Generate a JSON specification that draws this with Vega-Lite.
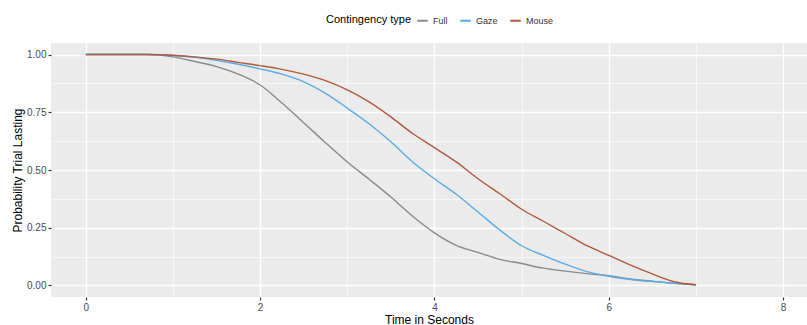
{
  "$schema": "https://vega.github.io/schema/vega-lite/v6.json",
  "width": 756,
  "height": 254,
  "autosize": {"type": "none"},
  "padding": {"left": 51, "top": 43, "right": 0, "bottom": 28},
  "background": "white",
  "config": {
    "font": "Liberation Sans",
    "view": {"fill": "#ebebeb", "stroke": null}
  },
  "data": {
    "values": [
      {"t": 0, "p": 1, "type": "Full"},
      {"t": 0.7, "p": 1, "type": "Full"},
      {"t": 1.0, "p": 0.99, "type": "Full"},
      {"t": 1.25, "p": 0.97, "type": "Full"},
      {"t": 1.5, "p": 0.948, "type": "Full"},
      {"t": 1.75, "p": 0.915, "type": "Full"},
      {"t": 2.0, "p": 0.868, "type": "Full"},
      {"t": 2.25, "p": 0.79, "type": "Full"},
      {"t": 2.5, "p": 0.705, "type": "Full"},
      {"t": 2.75, "p": 0.618, "type": "Full"},
      {"t": 3.0, "p": 0.535, "type": "Full"},
      {"t": 3.25, "p": 0.46, "type": "Full"},
      {"t": 3.5, "p": 0.383, "type": "Full"},
      {"t": 3.75, "p": 0.3, "type": "Full"},
      {"t": 4.0, "p": 0.228, "type": "Full"},
      {"t": 4.25, "p": 0.174, "type": "Full"},
      {"t": 4.5, "p": 0.143, "type": "Full"},
      {"t": 4.75, "p": 0.113, "type": "Full"},
      {"t": 5.0, "p": 0.095, "type": "Full"},
      {"t": 5.25, "p": 0.075, "type": "Full"},
      {"t": 5.5, "p": 0.062, "type": "Full"},
      {"t": 5.75, "p": 0.051, "type": "Full"},
      {"t": 6.0, "p": 0.042, "type": "Full"},
      {"t": 6.25, "p": 0.028, "type": "Full"},
      {"t": 6.5, "p": 0.018, "type": "Full"},
      {"t": 6.75, "p": 0.009, "type": "Full"},
      {"t": 7.0, "p": 0.003, "type": "Full"},
      {"t": 0, "p": 1, "type": "Gaze"},
      {"t": 0.7, "p": 1, "type": "Gaze"},
      {"t": 1.0, "p": 0.996, "type": "Gaze"},
      {"t": 1.25, "p": 0.988, "type": "Gaze"},
      {"t": 1.5, "p": 0.975, "type": "Gaze"},
      {"t": 1.75, "p": 0.958, "type": "Gaze"},
      {"t": 2.0, "p": 0.938, "type": "Gaze"},
      {"t": 2.25, "p": 0.915, "type": "Gaze"},
      {"t": 2.5, "p": 0.882, "type": "Gaze"},
      {"t": 2.75, "p": 0.832, "type": "Gaze"},
      {"t": 3.0, "p": 0.768, "type": "Gaze"},
      {"t": 3.25, "p": 0.7, "type": "Gaze"},
      {"t": 3.5, "p": 0.622, "type": "Gaze"},
      {"t": 3.75, "p": 0.535, "type": "Gaze"},
      {"t": 4.0, "p": 0.462, "type": "Gaze"},
      {"t": 4.25, "p": 0.395, "type": "Gaze"},
      {"t": 4.5, "p": 0.318, "type": "Gaze"},
      {"t": 4.75, "p": 0.24, "type": "Gaze"},
      {"t": 5.0, "p": 0.172, "type": "Gaze"},
      {"t": 5.25, "p": 0.13, "type": "Gaze"},
      {"t": 5.5, "p": 0.092, "type": "Gaze"},
      {"t": 5.75, "p": 0.06, "type": "Gaze"},
      {"t": 6.0, "p": 0.04, "type": "Gaze"},
      {"t": 6.25, "p": 0.026, "type": "Gaze"},
      {"t": 6.5, "p": 0.017, "type": "Gaze"},
      {"t": 6.75, "p": 0.009, "type": "Gaze"},
      {"t": 7.0, "p": 0.003, "type": "Gaze"},
      {"t": 0, "p": 1, "type": "Mouse"},
      {"t": 0.7, "p": 1, "type": "Mouse"},
      {"t": 1.0, "p": 0.997, "type": "Mouse"},
      {"t": 1.25, "p": 0.99, "type": "Mouse"},
      {"t": 1.5, "p": 0.98, "type": "Mouse"},
      {"t": 1.75, "p": 0.966, "type": "Mouse"},
      {"t": 2.0, "p": 0.952, "type": "Mouse"},
      {"t": 2.25, "p": 0.936, "type": "Mouse"},
      {"t": 2.5, "p": 0.915, "type": "Mouse"},
      {"t": 2.75, "p": 0.887, "type": "Mouse"},
      {"t": 3.0, "p": 0.847, "type": "Mouse"},
      {"t": 3.25, "p": 0.795, "type": "Mouse"},
      {"t": 3.5, "p": 0.73, "type": "Mouse"},
      {"t": 3.75, "p": 0.658, "type": "Mouse"},
      {"t": 4.0, "p": 0.597, "type": "Mouse"},
      {"t": 4.25, "p": 0.535, "type": "Mouse"},
      {"t": 4.5, "p": 0.462, "type": "Mouse"},
      {"t": 4.75, "p": 0.397, "type": "Mouse"},
      {"t": 5.0, "p": 0.33, "type": "Mouse"},
      {"t": 5.25, "p": 0.278, "type": "Mouse"},
      {"t": 5.5, "p": 0.225, "type": "Mouse"},
      {"t": 5.75, "p": 0.172, "type": "Mouse"},
      {"t": 6.0, "p": 0.13, "type": "Mouse"},
      {"t": 6.25, "p": 0.088, "type": "Mouse"},
      {"t": 6.5, "p": 0.05, "type": "Mouse"},
      {"t": 6.75, "p": 0.016, "type": "Mouse"},
      {"t": 7.0, "p": 0.003, "type": "Mouse"}
    ]
  },
  "mark": {"type": "line", "strokeWidth": 1.4, "clip": true, "interpolate": "monotone"},
  "encoding": {
    "x": {
      "field": "t",
      "type": "quantitative",
      "scale": {"domain": [-0.4, 8.275], "nice": false, "zero": false},
      "axis": {
        "title": "Time in Seconds",
        "values": [0, 1, 2, 3, 4, 5, 6, 7, 8],
        "labelExpr": "datum.value % 2 === 0 ? datum.label : ''",
        "domain": false,
        "grid": true,
        "gridColor": "white",
        "gridWidth": {"condition": {"test": "datum.value % 2 !== 0", "value": 0.6}, "value": 1.3},
        "tickColor": {"condition": {"test": "datum.value % 2 !== 0", "value": "transparent"}, "value": "#333333"},
        "tickSize": 3,
        "tickWidth": 1.2,
        "labelColor": "#4d4d4d",
        "labelFontSize": 10,
        "labelPadding": 2,
        "titleFontSize": 12,
        "titleFontWeight": "normal",
        "titleColor": "black",
        "titlePadding": 2
      }
    },
    "y": {
      "field": "p",
      "type": "quantitative",
      "scale": {"domain": [-0.05, 1.05], "nice": false, "zero": false},
      "axis": {
        "title": "Probability Trial Lasting",
        "values": [0, 0.125, 0.25, 0.375, 0.5, 0.625, 0.75, 0.875, 1],
        "labelExpr": "(datum.value * 4) % 1 === 0 ? format(datum.value, '.2f') : ''",
        "domain": false,
        "grid": true,
        "gridColor": "white",
        "gridWidth": {"condition": {"test": "(datum.value * 4) % 1 !== 0", "value": 0.6}, "value": 1.3},
        "tickColor": {"condition": {"test": "(datum.value * 4) % 1 !== 0", "value": "transparent"}, "value": "#333333"},
        "tickSize": 3,
        "tickWidth": 1.2,
        "labelColor": "#4d4d4d",
        "labelFontSize": 10,
        "labelPadding": 2,
        "titleFontSize": 12,
        "titleFontWeight": "normal",
        "titleColor": "black",
        "titlePadding": 2
      }
    },
    "color": {
      "field": "type",
      "type": "nominal",
      "scale": {"domain": ["Full", "Gaze", "Mouse"], "range": ["#8a8a8a", "#5aaae8", "#b0593b"]},
      "legend": {
        "title": "Contingency type",
        "orient": "none",
        "legendX": 275,
        "legendY": -29,
        "direction": "horizontal",
        "titleOrient": "left",
        "titleFontSize": 11,
        "titleFontWeight": "normal",
        "titleColor": "black",
        "titlePadding": 5,
        "labelFontSize": 9,
        "labelColor": "#333333",
        "symbolType": "stroke",
        "symbolStrokeWidth": 2,
        "symbolSize": 110,
        "columnPadding": 8,
        "labelOffset": 4
      }
    }
  }
}
